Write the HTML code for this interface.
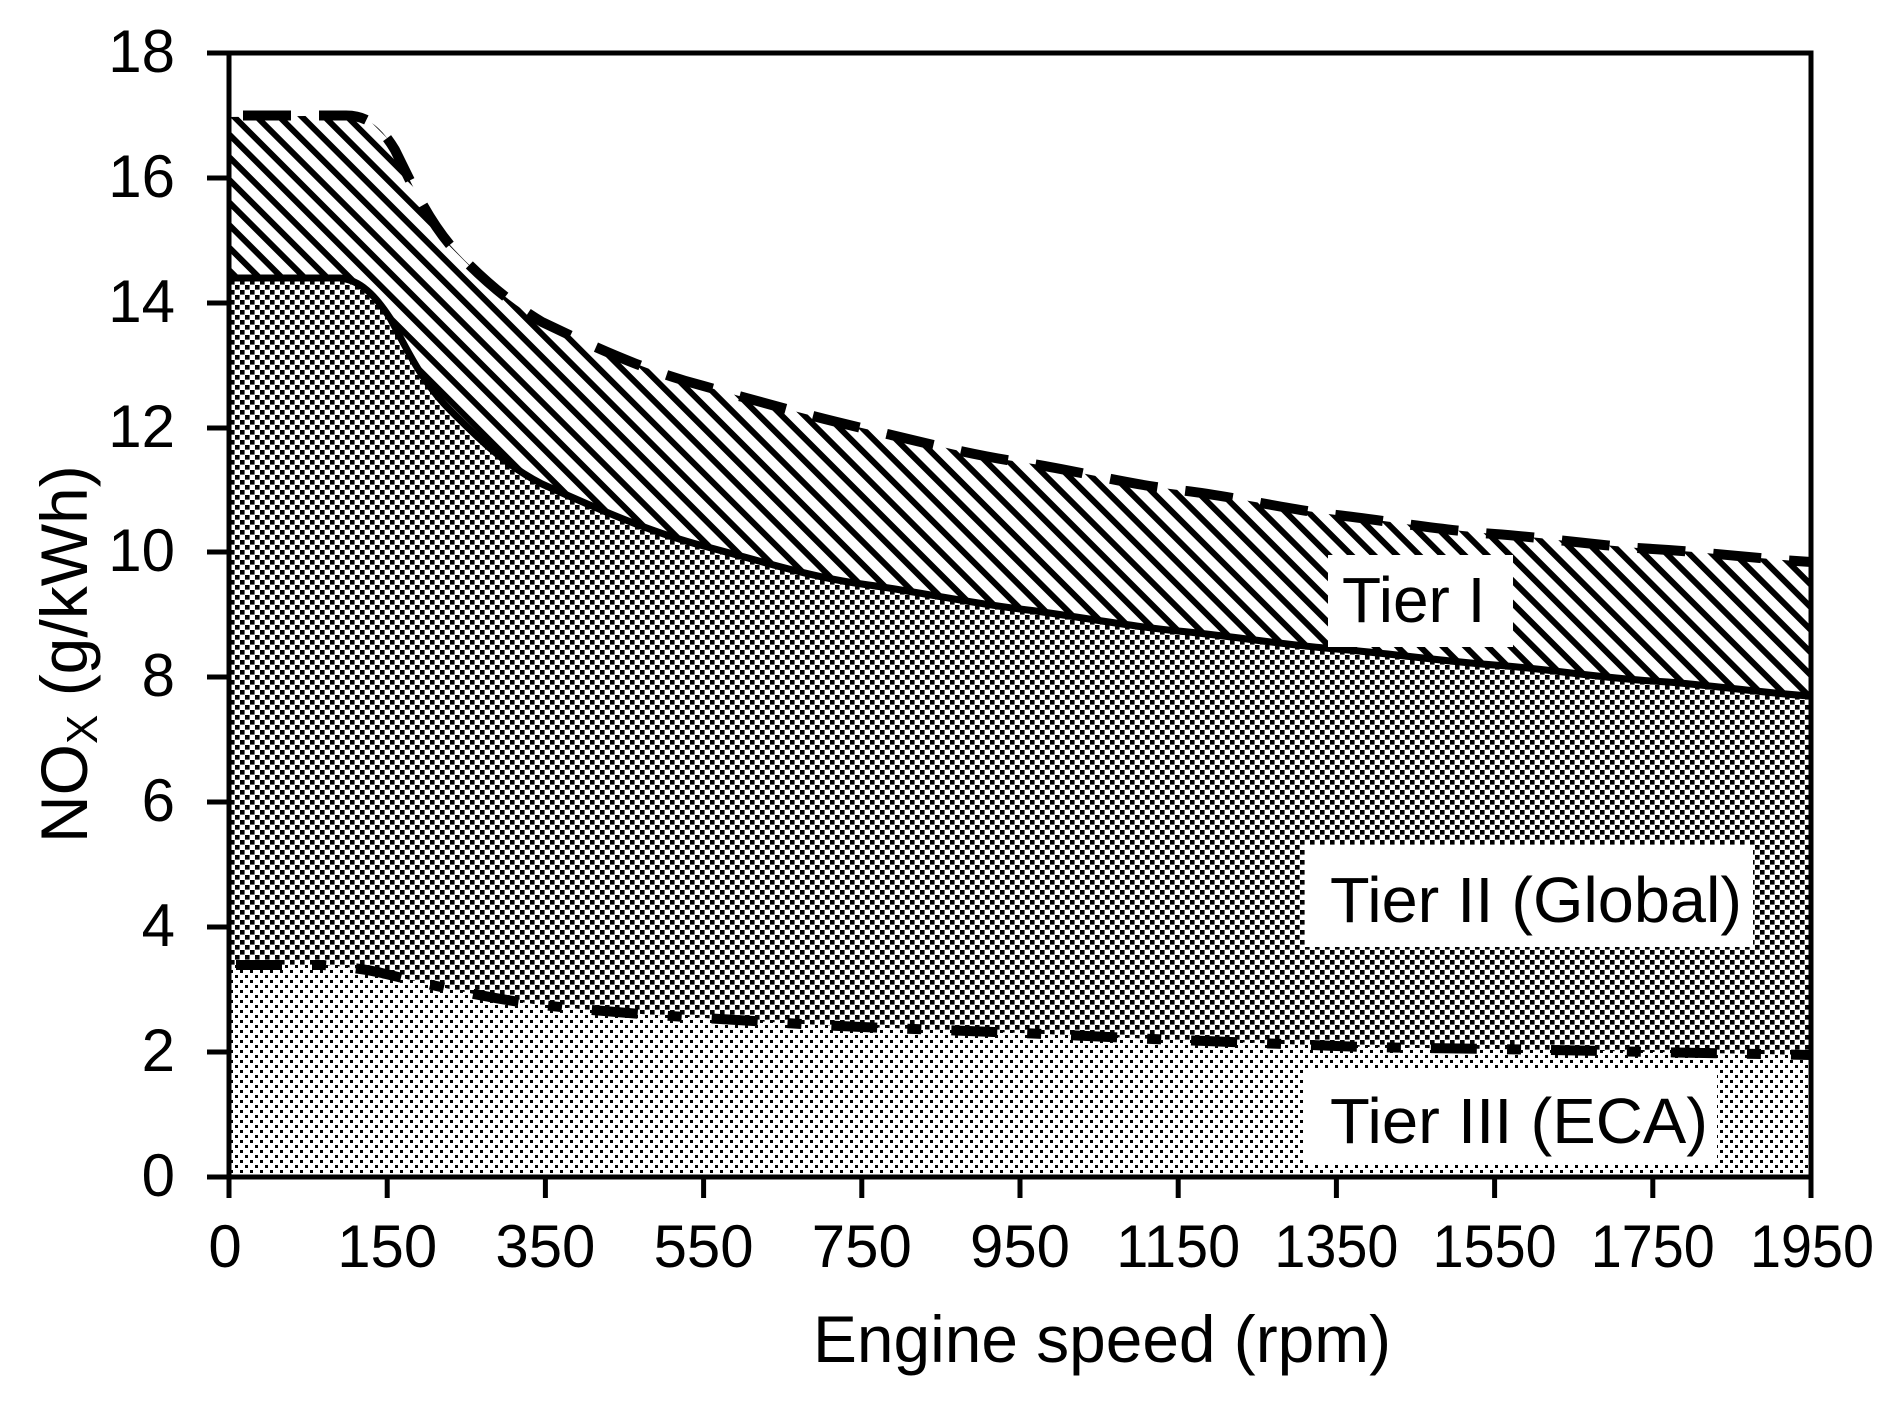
<!DOCTYPE html>
<html><head><meta charset="utf-8"><style>
html,body{margin:0;padding:0;background:#fff;}
svg{display:block;}
text{font-family:"Liberation Sans",Arial,sans-serif;fill:#000;}
</style></head><body>
<svg width="1899" height="1405" viewBox="0 0 1899 1405" xmlns="http://www.w3.org/2000/svg">
<defs>
<pattern id="hatch" width="16" height="16" patternUnits="userSpaceOnUse" patternTransform="rotate(-45)">
<rect width="16" height="16" fill="#fff"/>
<rect x="0" y="0" width="6" height="16" fill="#000"/>
</pattern>
<pattern id="dots2" width="10" height="10" patternUnits="userSpaceOnUse">
<rect width="10" height="10" fill="#fff"/>
<rect x="0" y="0" width="4.6" height="4.6" fill="#000"/>
<rect x="5" y="5" width="4.6" height="4.6" fill="#000"/>
</pattern>
<pattern id="dots3" width="10" height="10" patternUnits="userSpaceOnUse">
<rect width="10" height="10" fill="#fff"/>
<rect x="0" y="0" width="3" height="3" fill="#000"/>
<rect x="5" y="5" width="3" height="3" fill="#000"/>
</pattern>
</defs>

<!-- Tier I hatch region (drawn full, covered below) -->
<path d="M229,117 L346,115.5 C366,115.5 380,125 395,150 C410,180 425,215 450,245 C475,272 505,300 542,322 C600,350 650,372 703.6,386 C760,402 810,416 861.8,428 S970,455 1020,462 S1125,484 1178.2,490 S1285,509 1336.4,515 S1440,530 1494.6,534 S1600,546 1652.8,549 S1760,559 1811,562 L1811,1177 L229,1177 Z" fill="url(#hatch)"/>
<!-- Tier II region -->
<path d="M229,278 L340,278 C360,280 375,295 390,318 C405,345 420,380 450,410 C480,440 505,465 542,484 C600,510 650,532 703.6,546 S810,577 861.8,584 S970,603 1020,609 S1125,626 1178.2,631 S1285,645 1336.4,649 S1440,661 1494.6,665 S1600,678 1652.8,681 S1760,693 1811,696 L1811,1177 L229,1177 Z" fill="url(#dots2)"/>
<!-- Tier III region -->
<path d="M229,965 L322,965 C350,967 370,970 386,974 C450,990 500,1000 542,1005 S650,1015 703.6,1018 S810,1025 861.8,1027 S970,1031 1020,1033 S1125,1038 1178.2,1040 S1285,1044 1336.4,1046 S1440,1048 1494.6,1049 S1600,1051 1652.8,1052 S1760,1054 1811,1055 L1811,1177 L229,1177 Z" fill="url(#dots3)"/>

<!-- Tier I dashed -->
<path d="M243,115.5 L346,115.5 C366,115.5 380,125 395,150 C410,180 425,215 450,245 C475,272 505,300 542,322 C600,350 650,372 703.6,386 C760,402 810,416 861.8,428 S970,455 1020,462 S1125,484 1178.2,490 S1285,509 1336.4,515 S1440,530 1494.6,534 S1600,546 1652.8,549 S1760,559 1811,562" fill="none" stroke="#000" stroke-width="10" stroke-dasharray="48,28"/>
<!-- Tier II solid -->
<path d="M229,278 L340,278 C360,280 375,295 390,318 C405,345 420,380 450,410 C480,440 505,465 542,484 C600,510 650,532 703.6,546 S810,577 861.8,584 S970,603 1020,609 S1125,626 1178.2,631 S1285,645 1336.4,649 S1440,661 1494.6,665 S1600,678 1652.8,681 S1760,693 1811,696" fill="none" stroke="#000" stroke-width="7"/>
<!-- Tier III dash-dot -->
<path d="M236,965 L322,965 C350,967 370,970 386,974 C450,990 500,1000 542,1005 S650,1015 703.6,1018 S810,1025 861.8,1027 S970,1031 1020,1033 S1125,1038 1178.2,1040 S1285,1044 1336.4,1046 S1440,1048 1494.6,1049 S1600,1051 1652.8,1052 S1760,1054 1811,1055" fill="none" stroke="#000" stroke-width="10" stroke-dasharray="46,30,14,30"/>

<!-- labels -->
<rect x="1328" y="555" width="185" height="92" fill="#fff"/>
<text x="1342" y="622" font-size="64">Tier I</text>
<rect x="1305" y="845" width="448" height="102" fill="#fff"/>
<text x="1330" y="922" font-size="64" textLength="412" lengthAdjust="spacingAndGlyphs">Tier II (Global)</text>
<rect x="1305" y="1070" width="412" height="93" fill="#fff"/>
<text x="1330" y="1143" font-size="64" textLength="378" lengthAdjust="spacingAndGlyphs">Tier III (ECA)</text>

<!-- frame -->
<rect x="229" y="53" width="1582" height="1124" fill="none" stroke="#000" stroke-width="5"/>
<g stroke="#000" stroke-width="5">
<line x1="207" y1="53" x2="229" y2="53"/><line x1="207" y1="178" x2="229" y2="178"/><line x1="207" y1="303" x2="229" y2="303"/><line x1="207" y1="428" x2="229" y2="428"/><line x1="207" y1="552" x2="229" y2="552"/><line x1="207" y1="677" x2="229" y2="677"/><line x1="207" y1="802" x2="229" y2="802"/><line x1="207" y1="927" x2="229" y2="927"/><line x1="207" y1="1052" x2="229" y2="1052"/><line x1="207" y1="1177" x2="229" y2="1177"/>
<line x1="229" y1="1177" x2="229" y2="1198"/><line x1="387.2" y1="1177" x2="387.2" y2="1198"/><line x1="545.4" y1="1177" x2="545.4" y2="1198"/><line x1="703.6" y1="1177" x2="703.6" y2="1198"/><line x1="861.8" y1="1177" x2="861.8" y2="1198"/><line x1="1020" y1="1177" x2="1020" y2="1198"/><line x1="1178.2" y1="1177" x2="1178.2" y2="1198"/><line x1="1336.4" y1="1177" x2="1336.4" y2="1198"/><line x1="1494.6" y1="1177" x2="1494.6" y2="1198"/><line x1="1652.8" y1="1177" x2="1652.8" y2="1198"/><line x1="1811" y1="1177" x2="1811" y2="1198"/>
</g>
<g font-size="60" text-anchor="end">
<text x="175" y="72">18</text><text x="175" y="197">16</text><text x="175" y="322">14</text><text x="175" y="447">12</text><text x="175" y="571">10</text><text x="175" y="696">8</text><text x="175" y="821">6</text><text x="175" y="946">4</text><text x="175" y="1071">2</text><text x="175" y="1196">0</text>
</g>
<g font-size="60" text-anchor="middle">
<text x="225" y="1267">0</text><text x="387.2" y="1267" textLength="100" lengthAdjust="spacingAndGlyphs">150</text><text x="545.4" y="1267" textLength="100" lengthAdjust="spacingAndGlyphs">350</text><text x="703.6" y="1267" textLength="100" lengthAdjust="spacingAndGlyphs">550</text><text x="861.8" y="1267" textLength="100" lengthAdjust="spacingAndGlyphs">750</text><text x="1020" y="1267" textLength="100" lengthAdjust="spacingAndGlyphs">950</text><text x="1178.2" y="1267" textLength="124" lengthAdjust="spacingAndGlyphs">1150</text><text x="1336.4" y="1267" textLength="124" lengthAdjust="spacingAndGlyphs">1350</text><text x="1494.6" y="1267" textLength="124" lengthAdjust="spacingAndGlyphs">1550</text><text x="1652.8" y="1267" textLength="124" lengthAdjust="spacingAndGlyphs">1750</text><text x="1812" y="1267" textLength="124" lengthAdjust="spacingAndGlyphs">1950</text>
</g>
<text x="1102" y="1362" font-size="66" text-anchor="middle" textLength="578" lengthAdjust="spacingAndGlyphs">Engine speed (rpm)</text>
<text transform="translate(87,843) rotate(-90)" font-size="66">NO<tspan font-size="44" dy="10">X</tspan><tspan dy="-10">  (g/kWh)</tspan></text>
</svg>
</body></html>
